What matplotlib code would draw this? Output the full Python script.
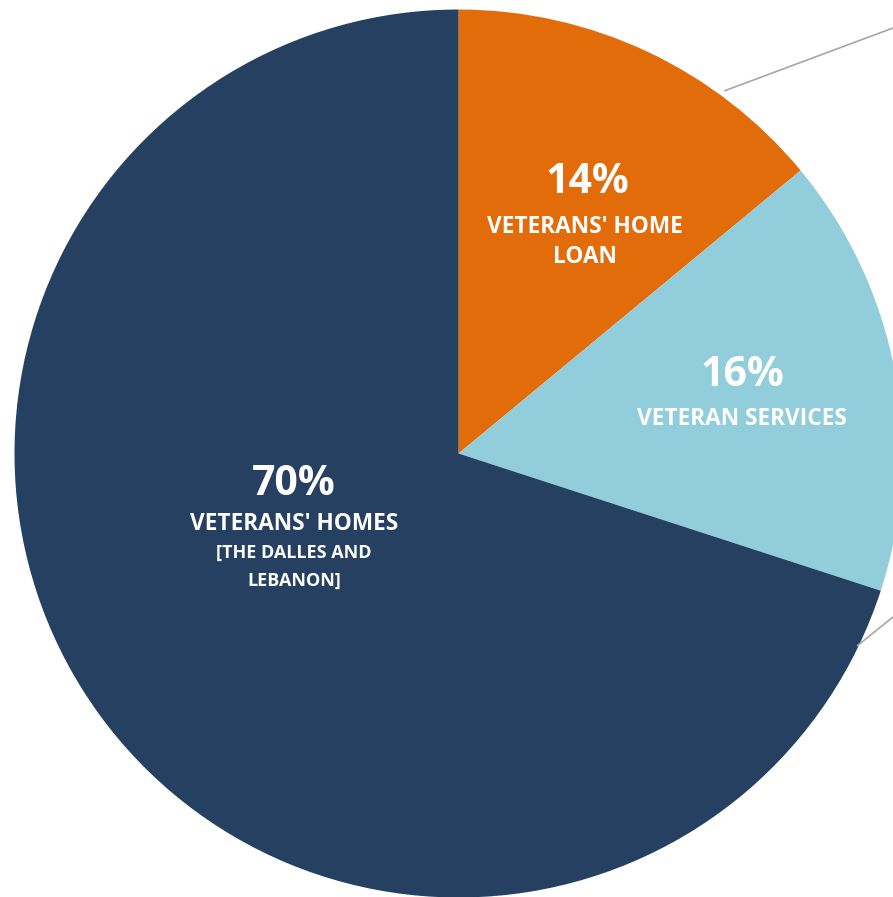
import matplotlib
matplotlib.use("Agg")
import matplotlib.pyplot as plt

matplotlib.rcParams['font.family'] = ["Open Sans", "DejaVu Sans"]

# budget shares, clockwise from 12 o'clock
shares = [14, 16, 70]
names = ["VETERANS' HOME\nLOAN", "VETERAN SERVICES", "VETERANS' HOMES"]
notes = ["", "", "[THE DALLES AND\nLEBANON]"]
colors = ["#E36C0A", "#92CDDC", "#264061"]

R = 444.0          # pie radius in pixels
cx, cy = 458.5, 453.5
W, H = 893, 897

def px(x, y):
    # pixel position -> data coordinates (pie radius = 1)
    return (x - cx) / R, (cy - y) / R

fig = plt.figure(figsize=(W / 100, H / 100), dpi=100)
ax = fig.add_axes([0, 0, 1, 1])
ax.pie(shares, colors=colors, startangle=90, counterclock=False, radius=1,
       wedgeprops=dict(linewidth=0))
ax.set_aspect('auto')
ax.set_xlim(px(0, 0)[0], px(W, 0)[0])
ax.set_ylim(px(0, H)[1], px(0, 0)[1])
ax.axis('off')

# leader lines running off to the right
for (x0, y0), (x1, y1) in [((724, 91), (893, 28)), ((857, 646), (893, 617))]:
    a, b = px(x0, y0)
    c, d = px(x1, y1)
    ax.plot([a, c], [b, d], color='#A6A6A6', linewidth=1.2, solid_capstyle='butt')

# in-slice labels: (percent pos, name pos, note pos)
spots = [
    ((587, 182), (585, 242), None),
    ((742, 375), (742, 419), None),
    ((294, 484), (294, 524), (294, 567)),
]
for share, name, note, (p1, p2, p3) in zip(shares, names, notes, spots):
    ax.text(*px(*p1), f"{share}%", color='white', fontsize=29.5, fontweight='bold',
            ha='center', va='center')
    ax.text(*px(*p2), name, color='white', fontsize=16.3, fontweight='bold',
            ha='center', va='center', linespacing=1.35)
    if note:
        ax.text(*px(*p3), note, color='white', fontsize=13, fontweight='bold',
                ha='center', va='center', linespacing=1.75)

fig.savefig("out.png", dpi=100)
plt.close(fig)
